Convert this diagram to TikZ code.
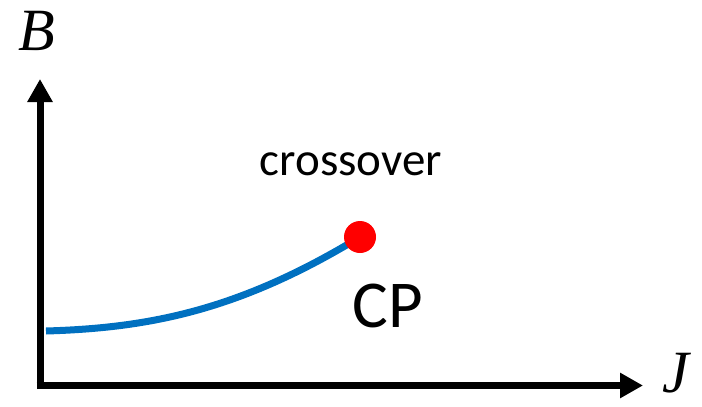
\documentclass[tikz,border=0pt]{standalone}
\usepackage{fontspec}
\setmainfont{Carlito}
\newfontfamily\serifit{Liberation Serif}
\usetikzlibrary{arrows.meta}
\definecolor{curveblue}{RGB}{0,112,192}
\tikzset{
  axis/.style={line width=7pt,-{Triangle[length=23pt,width=24pt]}},
  curve/.style={line width=7pt,curveblue},
  dot/.style={circle,fill=red,draw=none,minimum size=32pt,inner sep=0pt},
  axlabel/.style={inner sep=0pt,anchor=base,font=\serifit\itshape\fontsize{60}{60}\selectfont},
  txt/.style={inner sep=0pt,anchor=base}
}
\begin{document}
\begin{tikzpicture}[x=1pt,y=-1pt]
\useasboundingbox (0,0) rectangle (702,407);
\coordinate (ybot) at (40,389);
\coordinate (ytip) at (40,79);
\coordinate (xleft) at (36.5,385.5);
\coordinate (xtip) at (643,385.5);
\draw[axis] (ybot) -- (ytip);
\draw[axis] (xleft) -- (xtip);
\node[axlabel] (B) at (37,50) {B};
\node[axlabel] (J) at (676,392) {J};
\coordinate (start) at (46,331);
\coordinate (cpc) at (360,237);
\draw[curve] (start) .. controls (150,328) and (240,310) .. (cpc);
\node[dot] (cp) at (cpc) {};
\node[txt,font=\fontsize{47}{47}\selectfont] (cross) at (351,175) {crossover};
\node[txt,font=\fontsize{67}{67}\selectfont] (CP) at (388,327) {CP};
\end{tikzpicture}
\end{document}
